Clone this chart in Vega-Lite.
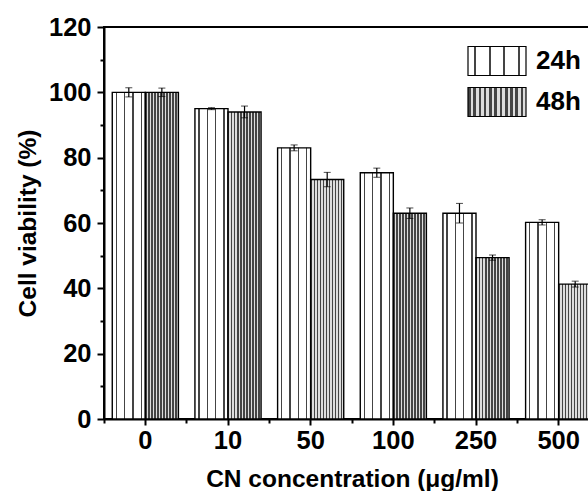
{
  "$schema": "https://vega.github.io/schema/vega-lite/v6.json",
  "width": 496,
  "height": 392,
  "padding": {"left": 15, "top": 15, "right": 0, "bottom": 0},
  "background": "white",
  "data": {
    "values": [
      {"conc": "0", "time": "24h", "v": 100, "err": 1.4},
      {"conc": "0", "time": "48h", "v": 100, "err": 1.3},
      {"conc": "10", "time": "24h", "v": 95, "err": 0.3},
      {"conc": "10", "time": "48h", "v": 94, "err": 1.8},
      {"conc": "50", "time": "24h", "v": 83, "err": 0.9},
      {"conc": "50", "time": "48h", "v": 73.3, "err": 2.2},
      {"conc": "100", "time": "24h", "v": 75.4, "err": 1.4},
      {"conc": "100", "time": "48h", "v": 63, "err": 1.6},
      {"conc": "250", "time": "24h", "v": 63, "err": 3},
      {"conc": "250", "time": "48h", "v": 49.4, "err": 0.8},
      {"conc": "500", "time": "24h", "v": 60.2, "err": 0.8},
      {"conc": "500", "time": "48h", "v": 41.3, "err": 0.9}
    ]
  },
  "encoding": {
    "x": {
      "field": "conc",
      "type": "ordinal",
      "sort": ["0", "10", "50", "100", "250", "500"],
      "scale": {"paddingInner": 0, "paddingOuter": 0}
    },
    "xOffset": {
      "field": "time",
      "type": "nominal",
      "scale": {"domain": ["24h", "48h"], "paddingInner": 0, "paddingOuter": 0.25}
    }
  },
  "layer": [
    {
      "transform": [{"filter": "datum.time === '24h'"}],
      "mark": {
        "type": "bar",
        "strokeWidth": 1.4,
        "fill": {"gradient": "linear", "x1": 0, "y1": 0, "x2": 1, "y2": 0, "stops": [
          {"offset": 0, "color": "#ffffff"},
          {"offset": 0.105, "color": "#ffffff"},
          {"offset": 0.105, "color": "#444444"},
          {"offset": 0.145, "color": "#444444"},
          {"offset": 0.145, "color": "#ffffff"},
          {"offset": 0.355, "color": "#ffffff"},
          {"offset": 0.355, "color": "#444444"},
          {"offset": 0.395, "color": "#444444"},
          {"offset": 0.395, "color": "#ffffff"},
          {"offset": 0.605, "color": "#ffffff"},
          {"offset": 0.605, "color": "#444444"},
          {"offset": 0.645, "color": "#444444"},
          {"offset": 0.645, "color": "#ffffff"},
          {"offset": 0.855, "color": "#ffffff"},
          {"offset": 0.855, "color": "#444444"},
          {"offset": 0.895, "color": "#444444"},
          {"offset": 0.895, "color": "#ffffff"},
          {"offset": 1, "color": "#ffffff"}
        ]}
      },
      "encoding": {
        "x": {
          "field": "conc",
          "type": "ordinal",
          "sort": ["0", "10", "50", "100", "250", "500"],
          "axis": {
            "orient": "bottom",
            "title": "CN concentration (μg/ml)",
            "labelAngle": 0,
            "tickSize": 6,
            "labelPadding": 3,
            "titlePadding": 14
          }
        },
        "y": {
          "field": "v",
          "type": "quantitative",
          "scale": {"domain": [0, 120], "nice": false},
          "axis": {
            "orient": "left",
            "title": "Cell viability (%)",
            "values": [0, 20, 40, 60, 80, 100, 120],
            "tickSize": 7,
            "labelPadding": 6,
            "titlePadding": 8
          }
        },
        "stroke": {
          "field": "time",
          "type": "nominal",
          "scale": {"domain": ["24h"], "range": ["black"]},
          "legend": {
            "title": null,
            "orient": "none",
            "legendX": 363,
            "legendY": 4,
            "padding": 0,
            "symbolType": "M-1,-0.5H1V0.5H-1Z",
            "symbolSize": 3364,
            "symbolStrokeWidth": 1.2,
            "symbolOpacity": 1,
            "labelFontSize": 26,
            "labelFontWeight": "bold",
            "labelColor": "black",
            "labelOffset": 9
          }
        }
      }
    },
    {
      "transform": [{"filter": "datum.time === '48h'"}],
      "mark": {
        "type": "bar",
        "strokeWidth": 1.4,
        "fill": {"gradient": "linear", "x1": 0, "y1": 0, "x2": 1, "y2": 0, "stops": [
          {"offset": 0, "color": "#444444"},
          {"offset": 0.045, "color": "#444444"},
          {"offset": 0.045, "color": "#dddddd"},
          {"offset": 0.0909, "color": "#dddddd"},
          {"offset": 0.0909, "color": "#444444"},
          {"offset": 0.1359, "color": "#444444"},
          {"offset": 0.1359, "color": "#dddddd"},
          {"offset": 0.1818, "color": "#dddddd"},
          {"offset": 0.1818, "color": "#444444"},
          {"offset": 0.2268, "color": "#444444"},
          {"offset": 0.2268, "color": "#dddddd"},
          {"offset": 0.2727, "color": "#dddddd"},
          {"offset": 0.2727, "color": "#444444"},
          {"offset": 0.3177, "color": "#444444"},
          {"offset": 0.3177, "color": "#dddddd"},
          {"offset": 0.3636, "color": "#dddddd"},
          {"offset": 0.3636, "color": "#444444"},
          {"offset": 0.4086, "color": "#444444"},
          {"offset": 0.4086, "color": "#dddddd"},
          {"offset": 0.4545, "color": "#dddddd"},
          {"offset": 0.4545, "color": "#444444"},
          {"offset": 0.4995, "color": "#444444"},
          {"offset": 0.4995, "color": "#dddddd"},
          {"offset": 0.5455, "color": "#dddddd"},
          {"offset": 0.5455, "color": "#444444"},
          {"offset": 0.5905, "color": "#444444"},
          {"offset": 0.5905, "color": "#dddddd"},
          {"offset": 0.6364, "color": "#dddddd"},
          {"offset": 0.6364, "color": "#444444"},
          {"offset": 0.6814, "color": "#444444"},
          {"offset": 0.6814, "color": "#dddddd"},
          {"offset": 0.7273, "color": "#dddddd"},
          {"offset": 0.7273, "color": "#444444"},
          {"offset": 0.7723, "color": "#444444"},
          {"offset": 0.7723, "color": "#dddddd"},
          {"offset": 0.8182, "color": "#dddddd"},
          {"offset": 0.8182, "color": "#444444"},
          {"offset": 0.8632, "color": "#444444"},
          {"offset": 0.8632, "color": "#dddddd"},
          {"offset": 0.9091, "color": "#dddddd"},
          {"offset": 0.9091, "color": "#444444"},
          {"offset": 0.9541, "color": "#444444"},
          {"offset": 0.9541, "color": "#dddddd"},
          {"offset": 1, "color": "#dddddd"}
        ]}
      },
      "encoding": {
        "x": {"field": "conc", "type": "ordinal", "sort": ["0", "10", "50", "100", "250", "500"], "axis": null},
        "y": {"field": "v", "type": "quantitative", "axis": null},
        "stroke": {
          "field": "time",
          "type": "nominal",
          "scale": {"domain": ["48h"], "range": ["black"]},
          "legend": {
            "title": null,
            "orient": "none",
            "legendX": 363,
            "legendY": 45,
            "padding": 0,
            "symbolType": "M-1,-0.5H1V0.5H-1Z",
            "symbolSize": 3364,
            "symbolStrokeWidth": 1.2,
            "symbolOpacity": 1,
            "labelFontSize": 26,
            "labelFontWeight": "bold",
            "labelColor": "black",
            "labelOffset": 9
          }
        }
      }
    },
    {
      "mark": {
        "type": "errorbar",
        "color": "black",
        "ticks": {"size": 7, "color": "black", "strokeWidth": 1.2},
        "rule": {"strokeWidth": 1.2}
      },
      "encoding": {
        "y": {"field": "v", "type": "quantitative", "axis": null},
        "yError": {"field": "err"},
        "x": {"field": "conc", "type": "ordinal", "sort": ["0", "10", "50", "100", "250", "500"], "axis": null}
      }
    },
    {
      "mark": {"type": "point", "opacity": 0},
      "encoding": {
        "x": {
          "field": "conc",
          "type": "ordinal",
          "sort": ["0", "10", "50", "100", "250", "500"],
          "axis": {"orient": "bottom", "title": null, "labels": false, "domain": false, "tickSize": 4, "bandPosition": 0}
        },
        "y": {
          "field": "v",
          "type": "quantitative",
          "axis": {"orient": "left", "title": null, "labels": false, "domain": false, "tickSize": 4, "values": [10, 30, 50, 70, 90, 110]}
        }
      }
    }
  ],
  "resolve": {
    "axis": {"x": "independent", "y": "independent"},
    "scale": {"stroke": "independent"},
    "legend": {"stroke": "independent"}
  },
  "config": {
    "font": "Liberation Sans",
    "view": {"stroke": "black", "strokeWidth": 2},
    "axis": {
      "domainColor": "black",
      "domainWidth": 2,
      "tickColor": "black",
      "tickWidth": 2,
      "grid": false,
      "labelFont": "Liberation Sans",
      "labelFontSize": 25.5,
      "labelFontWeight": "bold",
      "labelColor": "black",
      "titleFont": "Liberation Sans",
      "titleFontSize": 24.5,
      "titleFontWeight": "bold",
      "titleColor": "black"
    }
  }
}
